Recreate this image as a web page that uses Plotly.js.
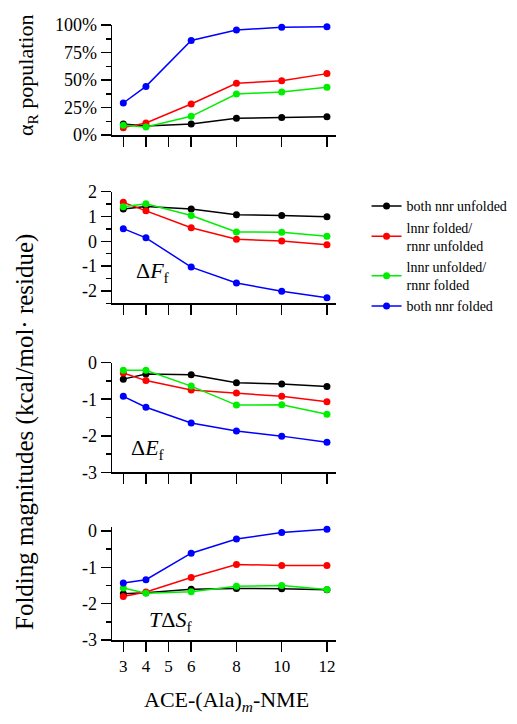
<!DOCTYPE html>
<html>
<head>
<meta charset="utf-8">
<script src="https://cdn.plot.ly/plotly-3.0.1.min.js"></script>
<style>html,body{margin:0;padding:0;background:#fff;}#chart{width:517px;height:724px;}</style>
</head>
<body>
<div id="chart"></div>
<script>
// ---- data ----
const xValues = [3, 4, 6, 8, 10, 12];
const xTickVals = [3, 4, 5, 6, 8, 10, 12];
const seriesNames = ["both nnr unfolded", "lnnr folded/<br>rnnr unfolded", "lnnr unfolded/<br>rnnr folded", "both nnr folded"];
const seriesColors = ["#000000", "#ff0000", "#00ee00", "#0000ff"];

// alpha_R population (%)
const popTickVals = [0, 25, 50, 75, 100];
const popTickText = ["0%", "25%", "50%", "75%", "100%"];
const popBoth_unf = [10, 8.2, 10, 15.2, 15.8, 16.7];
const popL_fold  = [6.7, 10.9, 28.2, 47, 49.4, 55.8];
const popR_fold  = [8.8, 7.3, 17, 37.3, 39.1, 43.3];
const popBoth_fold = [29.1, 44.2, 86, 95.5, 97.9, 98.5];

// Delta F_f
const dFTickVals = [-2, -1, 0, 1, 2];
const dFTickText = ["-2", "-1", "0", "1", "2"];
const dF_both_unf = [1.30, 1.40, 1.30, 1.07, 1.04, 0.99];
const dF_L_fold   = [1.57, 1.23, 0.55, 0.08, 0.01, -0.14];
const dF_R_fold   = [1.39, 1.51, 1.04, 0.38, 0.36, 0.20];
const dF_both_fold = [0.51, 0.14, -1.04, -1.68, -2.01, -2.28];

// Delta E_f
const dETickVals = [-3, -2, -1, 0];
const dETickText = ["-3", "-2", "-1", "0"];
const dE_both_unf = [-0.45, -0.31, -0.33, -0.55, -0.58, -0.65];
const dE_L_fold   = [-0.28, -0.49, -0.75, -0.83, -0.92, -1.07];
const dE_R_fold   = [-0.21, -0.21, -0.64, -1.16, -1.15, -1.41];
const dE_both_fold = [-0.92, -1.22, -1.65, -1.87, -2.01, -2.18];

// T Delta S_f
const TdSTickVals = [-3, -2, -1, 0];
const TdSTickText = ["-3", "-2", "-1", "0"];
const TdS_both_unf = [-1.73, -1.70, -1.60, -1.58, -1.59, -1.62];
const TdS_L_fold   = [-1.80, -1.68, -1.28, -0.92, -0.95, -0.95];
const TdS_R_fold   = [-1.57, -1.71, -1.67, -1.52, -1.50, -1.61];
const TdS_both_fold = [-1.43, -1.34, -0.61, -0.22, -0.04, 0.05];

const panels = [
  [popBoth_unf, popL_fold, popR_fold, popBoth_fold],
  [dF_both_unf, dF_L_fold, dF_R_fold, dF_both_fold],
  [dE_both_unf, dE_L_fold, dE_R_fold, dE_both_fold],
  [TdS_both_unf, TdS_L_fold, TdS_R_fold, TdS_both_fold]
];
const panelTickVals = [popTickVals, dFTickVals, dETickVals, TdSTickVals];
const panelTickText = [popTickText, dFTickText, dETickText, TdSTickText];

const FONT = "Liberation Serif";
const W = 517, H = 724;

const traces = [];
panels.forEach((series, p) => {
  const sfx = p === 0 ? "" : String(p + 1);
  series.forEach((ys, s) => {
    traces.push({
      x: xValues, y: ys, type: "scatter", mode: "lines+markers",
      xaxis: "x" + sfx, yaxis: "y" + sfx,
      name: seriesNames[s],
      legendgroup: "g" + s,
      showlegend: p === 1,
      line: {color: seriesColors[s], width: 1.5},
      marker: {color: seriesColors[s], size: 7},
      cliponaxis: false
    });
  });
});

// pixel geometry -> paper domains
const xDom = [112 / W, 336 / W];
const yDoms = [
  [1 - 135 / H, 1 - 25 / H],
  [1 - 303.3 / H, 1 - 191.7 / H],
  [1 - 472.3 / H, 1 - 362.7 / H],
  [1 - 640 / H, 1 - 527.4 / H]
];
const yRanges = [[0, 100], [-2.5, 2], [-3, 0], [-3, 0.1]];
const minorDt = [12.5, 0.5, 0.5, 0.5];

const layout = {
  width: W, height: H,
  margin: {l: 0, r: 0, t: 0, b: 0},
  paper_bgcolor: "#fff", plot_bgcolor: "#fff",
  font: {family: FONT, size: 17, color: "#000"},
  showlegend: true,
  legend: {
    x: 0.709, y: 0.737, xanchor: "left", yanchor: "top",
    font: {family: FONT, size: 14, color: "#000"},
    bgcolor: "rgba(0,0,0,0)", tracegroupgap: 0, itemwidth: 30
  },
  annotations: [
    {text: "α<sub>R</sub> population", textangle: -90, x: 27 / W, y: 1 - 76 / H,
     xref: "paper", yref: "paper", showarrow: false, xanchor: "center", yanchor: "middle",
     font: {family: FONT, size: 22}},
    {text: "Folding magnitudes (kcal/mol· residue)", textangle: -90, x: 25 / W, y: 1 - 432 / H,
     xref: "paper", yref: "paper", showarrow: false, xanchor: "center", yanchor: "middle",
     font: {family: FONT, size: 25}},
    {text: "ACE-(Ala)<sub><i>m</i></sub>-NME", x: 226 / W, y: 1 - 701 / H,
     xref: "paper", yref: "paper", showarrow: false, xanchor: "center", yanchor: "middle",
     font: {family: FONT, size: 22}},
    {text: "Δ<i>F</i><sub>f</sub>", x: 134 / W, y: 1 - 272 / H,
     xref: "paper", yref: "paper", showarrow: false, xanchor: "left", yanchor: "middle",
     font: {family: FONT, size: 22}},
    {text: "Δ<i>E</i><sub>f</sub>", x: 129 / W, y: 1 - 449 / H,
     xref: "paper", yref: "paper", showarrow: false, xanchor: "left", yanchor: "middle",
     font: {family: FONT, size: 22}},
    {text: "<i>T</i>Δ<i>S</i><sub>f</sub>", x: 147 / W, y: 1 - 621 / H,
     xref: "paper", yref: "paper", showarrow: false, xanchor: "left", yanchor: "middle",
     font: {family: FONT, size: 22}}
  ]
};

for (let p = 0; p < 4; p++) {
  const sfx = p === 0 ? "" : String(p + 1);
  layout["xaxis" + sfx] = {
    domain: xDom, anchor: "y" + sfx, range: [2.5, 12.4],
    tickmode: "array", tickvals: xTickVals, ticktext: xTickVals.map(String),
    showticklabels: p === 3, ticks: "outside", ticklen: 10, tickwidth: 1.5, tickcolor: "#000",
    showline: true, linecolor: "#000", linewidth: 1.5, showgrid: false, zeroline: false,
    tickfont: {family: FONT, size: 17}
  };
  layout["yaxis" + sfx] = {
    domain: yDoms[p], anchor: "x" + sfx, range: yRanges[p],
    tickmode: "array", tickvals: panelTickVals[p], ticktext: panelTickText[p],
    ticks: "outside", ticklen: 10, tickwidth: 1.5, tickcolor: "#000",
    showline: true, linecolor: "#000", linewidth: 1.5, showgrid: false, zeroline: false,
    tickfont: {family: FONT, size: 18},
    minor: {dtick: minorDt[p], tick0: 0, ticks: "outside", ticklen: 5, tickwidth: 1.5, tickcolor: "#000", showgrid: false}
  };
}

Plotly.newPlot("chart", traces, layout, {staticPlot: true});
</script>
</body>
</html>
